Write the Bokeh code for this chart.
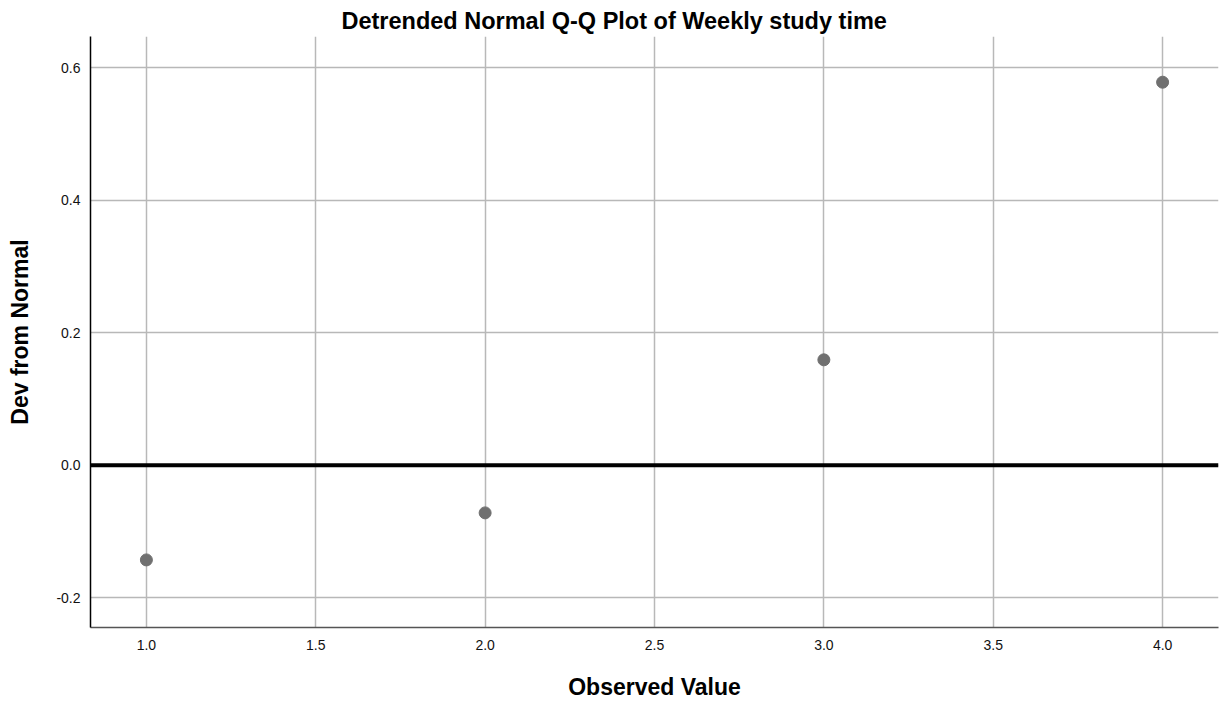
from bokeh.plotting import figure
from bokeh.models import Range1d, FixedTicker, Span, Title, NumeralTickFormatter
from bokeh.embed import file_html
from bokeh.resources import INLINE

observed = [1.0, 2.0, 3.0, 4.0]
dev_from_normal = [-0.143, -0.072, 0.159, 0.578]
x_ticks = [1.0, 1.5, 2.0, 2.5, 3.0, 3.5, 4.0]
y_ticks = [-0.2, 0.0, 0.2, 0.4, 0.6]

FONT = "Liberation Sans"

p = figure(width=1221, height=702, output_backend="svg", toolbar_location=None,
           x_range=Range1d(0.835, 4.165), y_range=Range1d(-0.245, 0.647),
           min_border_left=90, min_border_right=3, min_border_top=36, min_border_bottom=75)
p.outline_line_color = None

t = Title(text="Detrended Normal Q-Q Plot of Weekly study time", align="left", offset=251,
          standoff=6, text_font=FONT, text_font_size="23.5px", text_font_style="bold",
          text_color="black")
p.add_layout(t, "above")

for ax in (p.xaxis[0], p.yaxis[0]):
    ax.major_tick_line_color = None
    ax.minor_tick_line_color = None
    ax.major_label_text_font = FONT
    ax.major_label_text_font_size = "14px"
    ax.major_label_text_color = "#111111"
    ax.axis_label_text_font = FONT
    ax.axis_label_text_font_size = "23px"
    ax.axis_label_text_font_style = "bold"
    ax.axis_label_text_color = "black"
    ax.formatter = NumeralTickFormatter(format="0.0")

p.xaxis.ticker = FixedTicker(ticks=x_ticks)
p.yaxis.ticker = FixedTicker(ticks=y_ticks)
p.xaxis.axis_label = "Observed Value"
p.yaxis.axis_label = "Dev from Normal"
p.xaxis.axis_line_color = "#555555"
p.yaxis.axis_line_color = "black"
p.xaxis.axis_line_width = 1.5
p.yaxis.axis_line_width = 1.5
p.xaxis.major_label_standoff = 6
p.xaxis.axis_label_standoff = 21
p.yaxis.major_label_standoff = 4
p.yaxis.axis_label_standoff = 20

p.xgrid.ticker = FixedTicker(ticks=x_ticks)
p.ygrid.ticker = FixedTicker(ticks=y_ticks)
p.grid.grid_line_color = "#b8b8b8"
p.grid.grid_line_width = 1.5
p.grid.grid_line_alpha = 1.0

p.add_layout(Span(location=0, dimension="width", line_color="black", line_width=4))

p.scatter(observed, dev_from_normal, size=12, fill_color="#707070", line_color="#707070")

open("out.html", "w").write(file_html(p, INLINE))
